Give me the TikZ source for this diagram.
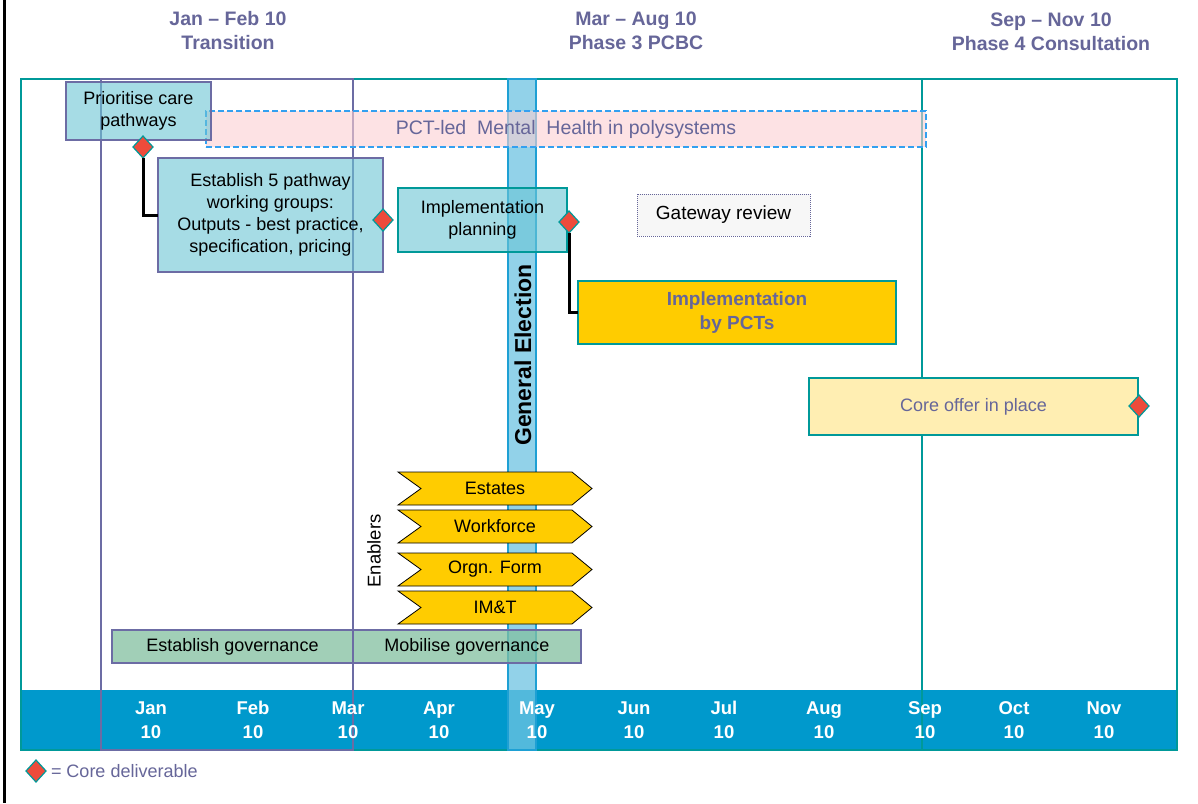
\documentclass[tikz,border=0pt]{standalone}
\usepackage{fontspec}
\setmainfont{Liberation Sans}
\usetikzlibrary{shapes.geometric}

\definecolor{ink}{RGB}{102,102,153}
\definecolor{tealline}{RGB}{0,153,153}
\definecolor{lineviolet}{RGB}{108,108,164}
\definecolor{boxblue}{RGB}{107,198,213}
\definecolor{barblue}{RGB}{110,196,226}
\definecolor{baredge}{RGB}{30,160,212}
\definecolor{bandblue}{RGB}{0,153,204}
\definecolor{gold}{RGB}{255,204,0}
\definecolor{paleyellow}{RGB}{255,238,178}
\definecolor{pinkfill}{RGB}{252,207,210}
\definecolor{dashblue}{RGB}{51,160,240}
\definecolor{govgreen}{RGB}{130,192,160}
\definecolor{deliv}{RGB}{238,75,59}
\definecolor{greyfill}{RGB}{247,247,247}

\tikzset{
  every node/.style={inner sep=0pt, outer sep=0pt, align=center},
  bodytext/.style={font=\fontsize{18}{22}\selectfont},
  headtext/.style={font=\fontsize{19.5}{24}\selectfont\bfseries, text=ink},
  monthtext/.style={font=\fontsize{18.5}{24}\selectfont\bfseries, text=white},
  taskbox/.style={bodytext, rectangle, draw=lineviolet, line width=1.2pt, fill=boxblue, fill opacity=0.6, text opacity=1, draw opacity=1},
  planbox/.style={taskbox, draw=tealline},
  govbox/.style={bodytext, rectangle, draw=lineviolet, line width=1.2pt, fill=govgreen, fill opacity=0.75, text opacity=1, draw opacity=1},
  chevron/.style={draw=black, line width=0.8pt, fill=gold},
  milestone/.style={diamond, fill=deliv, draw=tealline, line width=1.2pt, minimum width=20pt, minimum height=22pt},
  linkline/.style={draw=black, line width=3pt},
}

\begin{document}
\begin{tikzpicture}[x=1pt, y=-1pt]
\useasboundingbox (0,0) rectangle (1198,803);
\fill[white] (0,0) rectangle (1198,803);

% left page edge
\draw[line width=3pt] (4.5,0) -- (4.5,803);

% phase headings
\node[headtext] (hA) at (228,31) {Jan -- Feb 10\\Transition};
\node[headtext] (hB) at (636,31) {Mar -- Aug 10\\Phase 3 PCBC};
\node[headtext] (hC) at (1051,32) {Sep -- Nov 10\\Phase 4 Consultation};

% month band
\fill[bandblue] (21,690) rectangle (1177,750);

% outer frame and phase dividers
\draw[tealline, line width=1.5pt] (21,79) rectangle (1177,750);
\draw[tealline, line width=1.5pt] (922,79) -- (922,750);
\draw[lineviolet, line width=1.5pt] (101,79) rectangle (353,750);

% general election bar
\node[rectangle, fill=barblue, fill opacity=0.75, draw=baredge, line width=1.2pt,
      minimum width=28pt, minimum height=671pt] (ge) at (522,414.5) {};

% month labels
\foreach \mx/\mn/\tag in {151/Jan/mJan, 253/Feb/mFeb, 348/Mar/mMar, 439/Apr/mApr, 537/May/mMay,
                           634/Jun/mJun, 724/Jul/mJul, 824/Aug/mAug, 925/Sep/mSep, 1014/Oct/mOct, 1104/Nov/mNov}
  \node[monthtext] (\tag) at (\mx,720) {\mn\\10};

% mental health stream
\node[rectangle, fill=pinkfill, fill opacity=0.6, text opacity=1, draw=dashblue, dash pattern=on 6pt off 3pt,
      line width=1.2pt, minimum width=720pt, minimum height=36pt, font=\fontsize{19.5}{22}\selectfont, text=ink]
  (pct) at (566,129) {PCT-led\ \ Mental\ \ Health in polysystems};

% tasks
\node[taskbox, minimum width=145pt, minimum height=58pt] (prio) at (138.5,111) {Prioritise care\\pathways};
\node[taskbox, minimum width=225pt, minimum height=114pt] (estab) at (270.5,215)
  {Establish 5 pathway\\working groups:\\Outputs - best practice,\\specification, pricing};
\node[planbox, minimum width=169pt, minimum height=64pt] (plan) at (482.5,220) {Implementation\\planning};
\node[rectangle, draw=ink, densely dotted, line width=1pt, fill=greyfill,
      minimum width=173pt, minimum height=42pt, font=\fontsize{19}{22}\selectfont]
  (gate) at (723.5,215) {Gateway review};
\node[rectangle, draw=tealline, line width=1.2pt, fill=gold, minimum width=318pt, minimum height=63pt,
      font=\fontsize{19}{24}\selectfont\bfseries, text=ink] (impl) at (737,312.5) {Implementation\\by PCTs};
\node[rectangle, draw=tealline, line width=1.2pt, fill=paleyellow, minimum width=329pt, minimum height=57pt,
      bodytext, text=ink] (core) at (973.5,406.5) {Core offer in place};

% governance
\node[govbox, minimum width=241pt, minimum height=33pt] (govA) at (232.5,646.5) {Establish governance};
\node[govbox, minimum width=228pt, minimum height=33pt] (govB) at (467,646.5) {Mobilise governance};

% election label
\node[rotate=90, font=\fontsize{23}{26}\selectfont\bfseries] (getext) at (523,355) {General Election};

% enablers
\node[rotate=90, font=\fontsize{18.5}{22}\selectfont] (enab) at (374,551) {Enablers};
\foreach \yt/\yb/\lbl/\tag in {472/505/Estates/enEst, 510/543/Workforce/enWf, 553/586/Orgn. Form/enOrg, 591/624/IM\&T/enIMT}{
  \draw[chevron] (398,\yt) -- (572,\yt) -- (592,{(\yt+\yb)/2}) -- (572,\yb) -- (398,\yb) -- (421,{(\yt+\yb)/2}) -- cycle;
  \node[bodytext] (\tag) at (495,{(\yt+\yb)/2}) {\lbl};
}

% core deliverables
\node[milestone] (d1) at (143,147) {};
\node[milestone] (d2) at (383,220) {};
\node[milestone] (d3) at (569,222) {};
\node[milestone] (d4) at (1139,406) {};

% dependencies
\draw[linkline] (d1.south) |- (estab.west);
\draw[linkline] (d3.south) |- (impl.west);

% legend
\node[milestone] (dl) at (36,771) {};
\node[anchor=west, font=\fontsize{18}{22}\selectfont, text=ink] (legend) at (51,771) {= Core deliverable};
\end{tikzpicture}
\end{document}
